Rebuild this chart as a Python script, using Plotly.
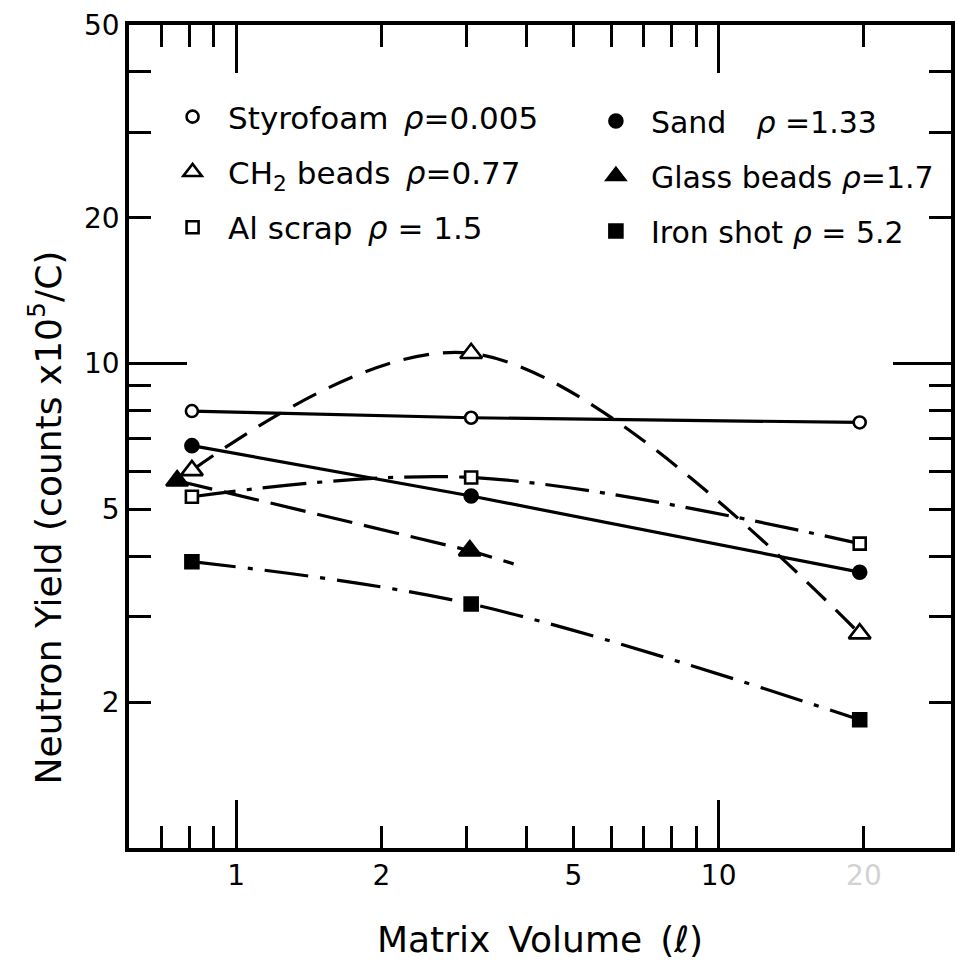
import math
import plotly.graph_objects as go

# Matrix volume (litres) at which each matrix was measured
volume = [0.81, 3.07, 19.6]

# Neutron yield (counts x 10^5 / C) for each matrix material
styrofoam = [7.98, 7.73, 7.56]
ch2_beads = [6.02, 10.5, 2.77]
al_scrap = [5.31, 5.82, 4.25]
sand = [6.77, 5.33, 3.71]
iron_shot = [3.90, 3.19, 1.84]
glass_volume = [0.755, 3.05]
glass_beads = [5.73, 4.11]

# the glass-bead trend line is carried a little past the last measurement
glass_line_volume = [0.755, 3.05, 3.76]
glass_line_yield = [5.73, 4.11, 3.86]

# axis ticks
x_tick_vals = [1, 2, 5, 10, 20]
x_tick_text = ["1", "2", "5", "10", '<span style="color:#d2d2d2">20</span>']
x_minor_vals = [0.7, 0.8, 0.9, 3, 4, 6, 7, 8, 9]
x_long_vals = [1, 10]
y_tick_vals = [2, 5, 10, 20, 50]
y_tick_text = ["2", "5", "10", "20", "50"]
y_minor_vals = [3, 4, 6, 7, 8, 9, 30, 40]
y_long_vals = [10]

X_RANGE = [math.log10(0.6), math.log10(30.3)]
Y_RANGE = [0, math.log10(50)]

INK = "black"
FONT = "DejaVu Sans"
GAP = "\u2002"  # leading space between key symbol and its label

series = [
    # name, x, y, line x, line y, symbol, size, filled, dash, shape, legend
    (GAP + "Styrofoam\u2002<i>ρ</i>=0.005", volume, styrofoam, volume, styrofoam,
     "circle", 12, False, "solid", "linear", "legend"),
    (GAP + "CH<sub>2</sub> beads\u2002<i>ρ</i>=0.77", volume, ch2_beads, volume, ch2_beads,
     "triangle-up", 19, False, "26px,14px", "spline", "legend"),
    (GAP + "Al scrap\u2002<i>ρ</i> = 1.5", volume, al_scrap, volume, al_scrap,
     "square", 12, False, "44px,11px,5px,11px", "spline", "legend"),
    (GAP + "Sand\u2003<i>ρ</i> =1.33", volume, sand, volume, sand,
     "circle", 13, True, "solid", "linear", "legend2"),
    (GAP + "Glass beads <i>ρ</i>=1.7", glass_volume, glass_beads, glass_line_volume,
     glass_line_yield, "triangle-up", 19, True, "36px,12px", "linear", "legend2"),
    (GAP + "Iron shot <i>ρ</i> = 5.2", volume, iron_shot, volume, iron_shot,
     "square", 13, True, "44px,12px,5px,12px", "spline", "legend2"),
]

fig = go.Figure()

# trend lines first so the symbols sit on top of them
for name, x, y, lx, ly, sym, size, filled, dash, shape, leg in series:
    fig.add_trace(go.Scatter(
        x=lx, y=ly, mode="lines", showlegend=False, hoverinfo="skip",
        line=dict(color=INK, width=3.2, dash=dash, shape=shape, smoothing=1.0),
    ))

for i, (name, x, y, lx, ly, sym, size, filled, dash, shape, leg) in enumerate(series):
    fig.add_trace(go.Scatter(
        x=x, y=y, mode="markers", name=name, legend=leg, legendgroup=f"g{i}",
        marker=dict(symbol=sym, size=size,
                    color=INK if filled else "white",
                    line=dict(color=INK, width=2.6)),
    ))

# carrier for the overlay axes that draw the long decade ticks
fig.add_trace(go.Scatter(x=[None], y=[None], xaxis="x2", yaxis="y2",
                         showlegend=False, hoverinfo="skip"))

axis_common = dict(
    type="log", showgrid=False, zeroline=False,
    showline=True, linecolor=INK, linewidth=3.5, mirror="ticks",
    ticks="inside", ticklen=22, tickwidth=3, tickcolor=INK,
    tickfont=dict(family=FONT, size=28, color=INK),
)

fig.update_layout(
    width=957, height=961,
    margin=dict(l=129, r=2, t=25, b=113),
    paper_bgcolor="white", plot_bgcolor="white",
    font=dict(family=FONT, color=INK),
    xaxis=dict(
        **axis_common, range=X_RANGE,
        tickmode="array", tickvals=x_tick_vals, ticktext=x_tick_text,
        minor=dict(tickvals=x_minor_vals, ticks="inside", ticklen=22,
                   tickwidth=3, tickcolor=INK, showgrid=False),
        title=dict(text="Matrix\u2002Volume\u2002(ℓ)",
                   font=dict(family=FONT, size=36, color=INK), standoff=36),
    ),
    yaxis=dict(
        **axis_common, range=Y_RANGE,
        tickmode="array", tickvals=y_tick_vals, ticktext=y_tick_text,
        minor=dict(tickvals=y_minor_vals, ticks="inside", ticklen=22,
                   tickwidth=3, tickcolor=INK, showgrid=False),
    ),
    xaxis2=dict(
        type="log", range=X_RANGE, overlaying="x", anchor="y2",
        tickmode="array", tickvals=x_long_vals, showticklabels=False,
        ticks="inside", ticklen=48, tickwidth=3, tickcolor=INK,
        showline=False, mirror="ticks", showgrid=False, zeroline=False,
    ),
    yaxis2=dict(
        type="log", range=Y_RANGE, overlaying="y", anchor="x2",
        tickmode="array", tickvals=y_long_vals, showticklabels=False,
        ticks="inside", ticklen=58, tickwidth=3, tickcolor=INK,
        showline=False, mirror="ticks", showgrid=False, zeroline=False,
    ),
    legend=dict(
        x=0.053, y=0.921, xanchor="left", yanchor="top",
        bgcolor="rgba(0,0,0,0)", font=dict(family=FONT, size=31, color=INK),
        tracegroupgap=12, itemsizing="trace",
    ),
    legend2=dict(
        x=0.568, y=0.915, xanchor="left", yanchor="top",
        bgcolor="rgba(0,0,0,0)", font=dict(family=FONT, size=30, color=INK),
        tracegroupgap=13, itemsizing="trace",
    ),
    annotations=[dict(
        text="Neutron Yield (counts x10<sup>5</sup>/C)",
        xref="paper", yref="paper", x=(45 - 129) / 826, y=(848 - 517) / 823,
        xanchor="center", yanchor="middle", textangle=-90, showarrow=False,
        font=dict(family=FONT, size=36, color=INK),
    )],
)

fig.write_html("out.html")
